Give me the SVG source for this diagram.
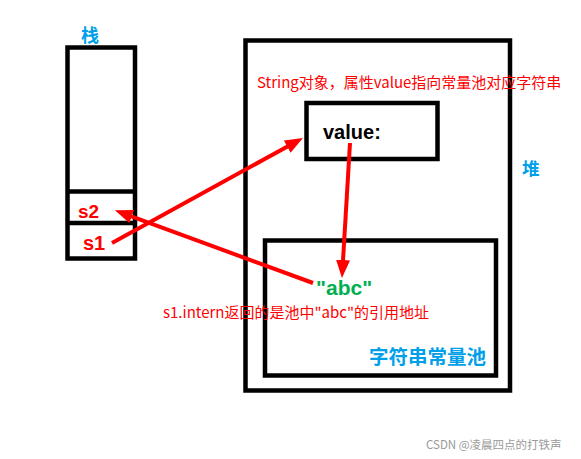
<svg xmlns="http://www.w3.org/2000/svg" width="581" height="459" viewBox="0 0 581 459">
<style>
.box{fill:none;stroke:#000;stroke-width:4.5}
.blue{fill:#00a0e9;font-family:"Noto Sans CJK SC",sans-serif;font-weight:bold}
.red{fill:#ff0000;font-family:"Noto Sans CJK SC",sans-serif}
.sv{fill:#ff0000;font-family:"Liberation Sans",Arial,sans-serif;font-weight:bold}
.arr{stroke:#ff0000;stroke-width:4;fill:none;marker-end:url(#ah)}
</style>
<defs>
<marker id="ah" markerUnits="userSpaceOnUse" markerWidth="18" markerHeight="14" refX="4" refY="7" orient="auto">
<path d="M0,0 L18,7 L0,14 z" fill="#ff0000"/>
</marker>
</defs>
<rect width="581" height="459" fill="#fff"/>
<g id="stack">
<rect class="box" x="67.5" y="47.5" width="67.5" height="211"/>
<line x1="67.5" y1="191.5" x2="135" y2="191.5" stroke="#000" stroke-width="4.5"/>
<line x1="67.5" y1="223" x2="135" y2="223" stroke="#000" stroke-width="4.5"/>
<text class="blue" x="81" y="42" font-size="18">栈</text>
<text class="sv" x="78" y="218" font-size="19">s2</text>
<text class="sv" x="83" y="250" font-size="20">s1</text>
</g>
<g id="heap">
<rect class="box" x="245.5" y="40.5" width="264.5" height="350"/>
<text class="blue" x="522" y="175" font-size="17.5">堆</text>
<text class="red" x="257" y="88" font-size="15">String对象，属性value指向常量池对应字符串</text>
</g>
<g id="value">
<rect class="box" x="306.5" y="103" width="131" height="56"/>
<text x="323" y="139" font-size="20" font-weight="bold" font-family="Liberation Sans,Arial,sans-serif" fill="#000">value:</text>
</g>
<g id="pool">
<rect class="box" x="265" y="240.5" width="231" height="135"/>
<text class="blue" x="369" y="364" font-size="19.5">字符串常量池</text>
<text x="316" y="295" font-size="21" font-weight="bold" font-family="Liberation Sans,Arial,sans-serif" fill="#00b050">"abc"</text>
</g>
<g id="connectors">
<line class="arr" x1="112" y1="243" x2="290.7" y2="144.7"/>
<line class="arr" x1="313" y1="283" x2="128" y2="215.1"/>
<line class="arr" x1="350" y1="143" x2="342.8" y2="264"/>
</g>
<text class="red" x="163" y="318" font-size="15">s1.intern返回的是池中"abc"的引用地址</text>
<text x="426" y="449" font-size="11.5" fill="#9a9a9a" font-family="Noto Sans CJK SC,sans-serif">CSDN @凌晨四点的打铁声</text>
</svg>
